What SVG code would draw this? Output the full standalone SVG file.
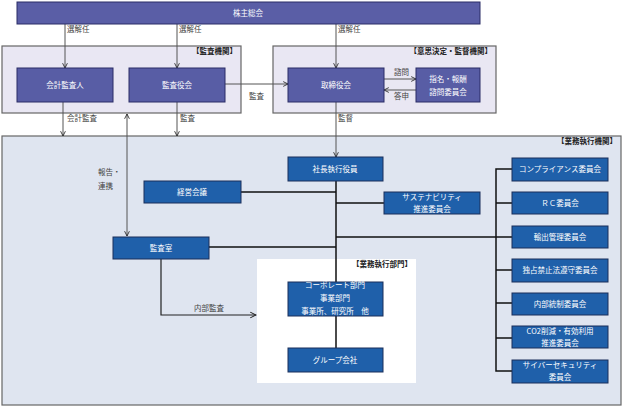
<svg xmlns="http://www.w3.org/2000/svg" width="624" height="408" viewBox="0 0 624 408">
<style>
text{font-family:"Noto Sans CJK JP","Noto Sans",sans-serif;font-size:7.5px}
.w{fill:#ffffff;text-anchor:middle}
.lbl{fill:#444}
.hd{fill:#222;font-weight:bold;text-anchor:end}
.pb{fill:#585da5;stroke:#2a2d66;stroke-width:1}
.bb{fill:#1f60aa;stroke:#1a2f5a;stroke-width:1}
.panel{stroke:#666;stroke-width:1.2}
.ln{stroke:#555;stroke-width:1;fill:none}
.tk{stroke:#111;stroke-width:1.5;fill:none}
</style>
<defs>
<marker id="ah" viewBox="0 0 10 10" refX="9" refY="5" markerWidth="6" markerHeight="6" orient="auto-start-reverse">
<path d="M1,1 L9,5 L1,9" fill="none" stroke="#222" stroke-width="1.4"/>
</marker>
</defs>
<rect width="624" height="408" fill="#ffffff"/>

<g id="panels">
<rect class="panel" x="2" y="46" width="239" height="67" fill="#e9e7f3"/>
<text class="hd" x="237" y="54">【監査機関】</text>
<rect class="panel" x="273" y="46" width="223" height="67" fill="#e9e7f3"/>
<text class="hd" x="492" y="54">【意思決定・監督機関】</text>
<rect class="panel" x="2" y="136" width="619" height="269" fill="#dfe5f0"/>
<text class="hd" x="617" y="144">【業務執行機関】</text>
<rect x="257" y="259" width="159" height="124" fill="#ffffff"/>
<text class="hd" x="412" y="267">【業務執行部門】</text>
</g>

<g id="connectors">
<line class="ln" x1="65" y1="24" x2="65" y2="68" marker-end="url(#ah)"/>
<text class="lbl" x="67" y="32">選解任</text>
<line class="ln" x1="177" y1="24" x2="177" y2="68" marker-end="url(#ah)"/>
<text class="lbl" x="179" y="32">選解任</text>
<line class="ln" x1="336" y1="24" x2="336" y2="68" marker-end="url(#ah)"/>
<text class="lbl" x="338" y="32">選解任</text>
<line class="ln" x1="225" y1="84" x2="288" y2="84" marker-end="url(#ah)"/>
<text class="lbl" x="249" y="99">監査</text>
<line class="ln" x1="384" y1="79" x2="416" y2="79" marker-end="url(#ah)"/>
<text class="lbl" x="394" y="75">諮問</text>
<line class="ln" x1="416" y1="90" x2="384" y2="90" marker-end="url(#ah)"/>
<text class="lbl" x="394" y="99">答申</text>
<line class="ln" x1="63" y1="102" x2="63" y2="136" marker-end="url(#ah)"/>
<text class="lbl" x="67" y="121">会計監査</text>
<line class="ln" x1="177" y1="102" x2="177" y2="136" marker-end="url(#ah)"/>
<text class="lbl" x="180" y="121">監査</text>
<line class="ln" x1="127" y1="114" x2="127" y2="236" marker-start="url(#ah)" marker-end="url(#ah)"/>
<text class="lbl" x="98" y="175">報告・</text>
<text class="lbl" x="98" y="189">連携</text>
<line class="ln" x1="336" y1="102" x2="336" y2="157" marker-end="url(#ah)"/>
<text class="lbl" x="338" y="121">監督</text>
<path class="tk" d="M336,181 V348 M241,192 H336 M336,203 H384 M209,247 H336 M336,237 H512"/>
<path class="tk" d="M512,169 H496 V371 H512 M496,203 H512 M496,270 H512 M496,303 H512 M496,338 H512"/>
<path d="M161,259 V315 H256" fill="none" stroke="#222" stroke-width="1.2" marker-end="url(#ah)"/>
<text class="lbl" x="194" y="311">内部監査</text>
</g>

<g id="shareholders"><rect x="17" y="2" width="463" height="22" fill="#5a5ea6" stroke="#2a2d66"/><text class="w" x="248" y="16">株主総会</text></g>
<g id="auditor"><rect class="pb" x="17" y="68" width="96" height="34"/><text class="w" x="65" y="88">会計監査人</text></g>
<g id="audit-board"><rect class="pb" x="129" y="68" width="96" height="34"/><text class="w" x="177" y="88">監査役会</text></g>
<g id="board"><rect class="pb" x="288" y="68" width="96" height="34"/><text class="w" x="336" y="88">取締役会</text></g>
<g id="nomination"><rect class="pb" x="416" y="68" width="64" height="34"/><text class="w" x="448" y="82">指名・報酬</text><text class="w" x="448" y="95">諮問委員会</text></g>

<g id="president"><rect class="bb" x="288" y="157" width="95" height="24"/><text class="w" x="335" y="172">社長執行役員</text></g>
<g id="management"><rect class="bb" x="144" y="181" width="97" height="22"/><text class="w" x="192" y="195">経営会議</text></g>
<g id="sustainability"><rect class="bb" x="384" y="192" width="96" height="22"/><text class="w" x="432" y="200">サステナビリティ</text><text class="w" x="432" y="212">推進委員会</text></g>
<g id="audit-office"><rect class="bb" x="113" y="237" width="96" height="22"/><text class="w" x="161" y="251">監査室</text></g>
<g id="corporate"><rect class="bb" x="288" y="282" width="95" height="34"/><text class="w" x="335" y="288">コーポレート部門</text><text class="w" x="335" y="301">事業部門</text><text class="w" x="335" y="314">事業所、研究所　他</text></g>
<g id="group"><rect class="bb" x="288" y="348" width="95" height="24"/><text class="w" x="335" y="363">グループ会社</text></g>

<g id="compliance"><rect class="bb" x="512" y="158" width="96" height="23"/><text class="w" x="560" y="172">コンプライアンス委員会</text></g>
<g id="rc"><rect class="bb" x="512" y="192" width="96" height="22"/><text class="w" x="560" y="206">ＲＣ委員会</text></g>
<g id="export"><rect class="bb" x="512" y="226" width="96" height="22"/><text class="w" x="560" y="240">輸出管理委員会</text></g>
<g id="antitrust"><rect class="bb" x="512" y="259" width="96" height="23"/><text class="w" x="560" y="273">独占禁止法遵守委員会</text></g>
<g id="internal-control"><rect class="bb" x="512" y="293" width="96" height="22"/><text class="w" x="560" y="307">内部統制委員会</text></g>
<g id="co2"><rect class="bb" x="512" y="326" width="96" height="22"/><text class="w" x="560" y="334">CO2削減・有効利用</text><text class="w" x="560" y="346">推進委員会</text></g>
<g id="cyber"><rect class="bb" x="512" y="360" width="96" height="23"/><text class="w" x="560" y="368">サイバーセキュリティ</text><text class="w" x="560" y="380">委員会</text></g>
</svg>
